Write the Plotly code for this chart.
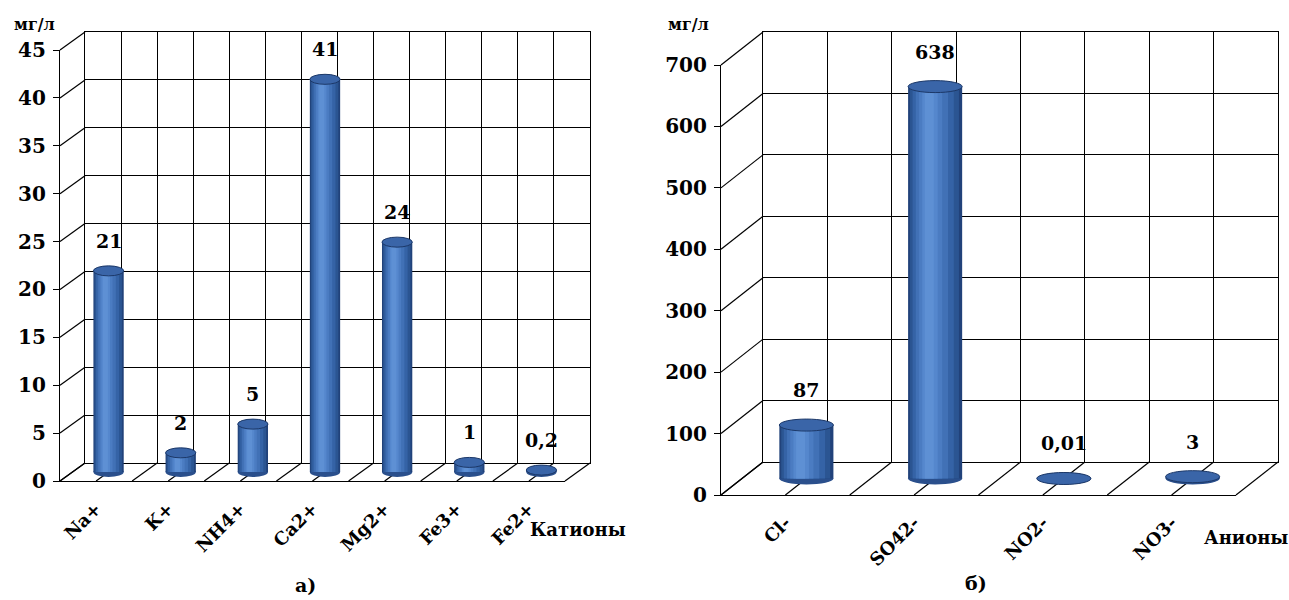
import plotly.graph_objects as go

# ---- data -------------------------------------------------------------
cations = ["Na+", "K+", "NH4+", "Ca2+", "Mg2+", "Fe3+", "Fe2+"]
cation_values = [21, 2, 5, 41, 24, 1, 0.2]
cation_ticks = [0, 5, 10, 15, 20, 25, 30, 35, 40, 45]

anions = ["Cl-", "SO42-", "NO2-", "NO3-"]
anion_values = [87, 638, 0.01, 3]
anion_ticks = [0, 100, 200, 300, 400, 500, 600, 700]

# ---- page geometry (pixels) --------------------------------------------
W, H = 1289, 600
FONT = "DejaVu Serif"


def fx(p):
    return p / W


def fy(p):
    return 1 - p / H


def ref(letter, k):
    return letter + ("" if k == 1 else str(k))


def axkey(letter, k):
    return letter + "axis" + ("" if k == 1 else str(k))


def label_of(v):
    return f"{v:g}".replace(".", ",")


def bold(size):
    return dict(family=FONT, size=size, color="black", weight="bold")


def note(x, y, text, size):
    return dict(xref="paper", yref="paper", x=fx(x), y=fy(y), xanchor="center",
                yanchor="middle", text=text, showarrow=False, font=bold(size))


fig = go.Figure()
layout_axes = {}
shapes = []
annotations = []

BAR_HALF = 0.21
LAYERS = [  # (left offset, width, colour) : shading bands of a cylinder
    (-0.21, 0.42, "#21427a"),
    (-0.195, 0.38, "#2b5592"),
    (-0.175, 0.32, "#3563a6"),
    (-0.15, 0.25, "#4171b6"),
    (-0.125, 0.18, "#4b7cc2"),
    (-0.10, 0.12, "#5587cd"),
    (-0.08, 0.07, "#5e90d4"),
]


def panel(cats, vals, ticks, geo, k0, title, title_xy, tag, tag_xy):
    n = len(cats)
    xl, xr = geo["x"]
    y0, yt = geo["zero"], geo["top"]
    dx, dy = geo["dx"], geo["dy"]
    vmax = ticks[-1]
    scale = (y0 - yt) / vmax
    kb, kbar, kf = k0, k0 + 1, k0 + 2
    half_ticks = [-0.5 + 0.5 * i for i in range(2 * n + 1)]

    # back wall with its grid
    layout_axes[axkey("x", kb)] = dict(
        domain=[fx(xl), fx(xr)], range=[-0.5, n - 0.5], anchor=ref("y", kb),
        tickvals=half_ticks, showticklabels=False, ticks="", automargin=False,
        showgrid=True, gridcolor="black", gridwidth=1.2, zeroline=False,
        showline=True, mirror=True, linecolor="black", linewidth=1.2)
    layout_axes[axkey("y", kb)] = dict(
        domain=[fy(y0), fy(yt)], range=[0, vmax], anchor=ref("x", kb),
        tickvals=ticks, showticklabels=False, ticks="", automargin=False,
        showgrid=True, gridcolor="black", gridwidth=1.2, zeroline=False,
        showline=True, mirror=True, linecolor="black", linewidth=1.2)
    fig.add_trace(go.Scatter(x=[None], y=[None], xaxis=ref("x", kb), yaxis=ref("y", kb),
                             showlegend=False, hoverinfo="skip"))

    # bars sit halfway between the front and the back wall
    pad = 12
    vlo = -pad / scale
    layout_axes[axkey("x", kbar)] = dict(
        domain=[fx(xl - dx / 2), fx(xr - dx / 2)], range=[-0.5, n - 0.5],
        anchor=ref("y", kbar), visible=False, automargin=False)
    layout_axes[axkey("y", kbar)] = dict(
        domain=[fy(y0 + dy / 2 + pad), fy(yt + dy / 2)], range=[vlo, vmax],
        anchor=ref("x", kbar), visible=False, automargin=False)
    xs = list(range(n))
    for off, w, col in LAYERS:
        fig.add_trace(go.Bar(x=xs, y=vals, width=w, offset=off, marker_color=col,
                             marker_line_width=0, xaxis=ref("x", kbar), yaxis=ref("y", kbar),
                             showlegend=False, hoverinfo="skip"))
    eh = geo["eh"]
    for i, v in enumerate(vals):
        shapes.append(dict(type="circle", xref=ref("x", kbar), yref=ref("y", kbar),
                           x0=i - BAR_HALF, x1=i + BAR_HALF, ysizemode="pixel", yanchor=0,
                           y0=-eh, y1=eh, fillcolor="#2a4f8c", line_width=0, layer="below"))
        shapes.append(dict(type="circle", xref=ref("x", kbar), yref=ref("y", kbar),
                           x0=i - BAR_HALF, x1=i + BAR_HALF, ysizemode="pixel", yanchor=v,
                           y0=-eh, y1=eh, fillcolor="#3a65a8",
                           line=dict(color="#1c3868", width=1), layer="above"))
        annotations.append(dict(xref=ref("x", kbar), yref=ref("y", kbar), x=i, y=v,
                                xanchor="center", yanchor="middle",
                                yshift=geo["lab"], text=label_of(v), showarrow=False,
                                font=bold(19)))

    # front edge: value axis and category labels
    layout_axes[axkey("x", kf)] = dict(
        domain=[fx(xl - dx), fx(xr - dx)], range=[-0.5, n - 0.5], anchor=ref("y", kf),
        tickvals=xs, ticktext=cats, tickangle=-45, ticks="", showgrid=False,
        zeroline=False, showline=True, linecolor="black", linewidth=1.2,
        ticklabelstandoff=geo["xstand"], automargin=False, tickfont=bold(18))
    layout_axes[axkey("y", kf)] = dict(
        domain=[fy(y0 + dy), fy(yt + dy)], range=[0, vmax], anchor=ref("x", kf),
        tickvals=ticks, ticks="outside", ticklen=6, tickcolor="black", tickwidth=1.2,
        showgrid=False, zeroline=False, showline=True, linecolor="black", linewidth=1.2,
        ticklabelstandoff=3, automargin=False, tickfont=bold(20))
    fig.add_trace(go.Scatter(x=[None], y=[None], xaxis=ref("x", kf), yaxis=ref("y", kf),
                             showlegend=False, hoverinfo="skip"))

    # side wall and floor edges joining front and back
    line = dict(color="black", width=1.2)
    for t in ticks:
        shapes.append(dict(type="line", xref="paper", yref="paper",
                           x0=fx(xl - dx), y0=fy(y0 + dy - t * scale),
                           x1=fx(xl), y1=fy(y0 - t * scale), line=line, layer="below"))
    step = (xr - xl) / (2 * n)
    for i in range(2 * n + 1):
        xb = xl + i * step
        shapes.append(dict(type="line", xref="paper", yref="paper",
                           x0=fx(xb), y0=fy(y0), x1=fx(xb - dx), y1=fy(y0 + dy),
                           line=line, layer="below"))

    # unit, axis name and panel tag
    annotations.append(note(geo["unit"][0], geo["unit"][1], "мг/л", 16))
    annotations.append(note(title_xy[0], title_xy[1], title, 18))
    annotations.append(note(tag_xy[0], tag_xy[1], tag, 19))


panel(cations, cation_values, cation_ticks,
      dict(x=(85, 590), zero=463, top=32, dx=25, dy=18, eh=5, lab=30, xstand=9, unit=(34, 25)),
      1, "Катионы", (578, 529), "а)", (305, 585))
panel(anions, anion_values, anion_ticks,
      dict(x=(763, 1278), zero=462, top=32, dx=42, dy=33, eh=6, lab=35, xstand=9, unit=(688, 25)),
      4, "Анионы", (1246, 537), "б)", (976, 583))

fig.update_layout(
    width=W, height=H,
    margin=dict(l=0, r=0, t=0, b=0),
    paper_bgcolor="white", plot_bgcolor="rgba(0,0,0,0)",
    barmode="overlay", showlegend=False,
    shapes=shapes, annotations=annotations,
    font=dict(family=FONT, color="black"),
    **layout_axes,
)

fig.write_html("out.html")
